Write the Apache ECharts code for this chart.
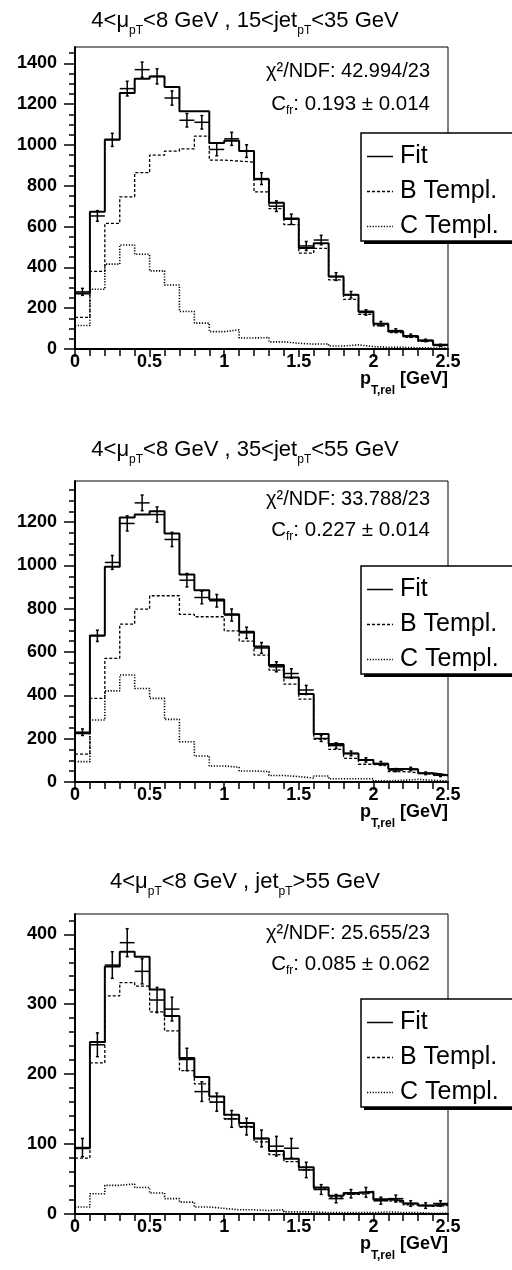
<!DOCTYPE html>
<html>
<head>
<meta charset="utf-8">
<script src="https://cdn.jsdelivr.net/npm/echarts@6/dist/echarts.min.js"></script>
<style>
html, body { margin: 0; padding: 0; background: #fff; }
#main { width: 512px; height: 1270px; }
</style>
</head>
<body>
<div id="main"></div>
<script>
// p_T,rel bins (GeV)
var binEdges = [0, 0.1, 0.2, 0.3, 0.4, 0.5, 0.6, 0.7, 0.8, 0.9, 1.0, 1.1, 1.2, 1.3, 1.4, 1.5, 1.6, 1.7, 1.8, 1.9, 2.0, 2.1, 2.2, 2.3, 2.4, 2.5];
var xTicks = [0, 0.5, 1, 1.5, 2, 2.5];

// 4<mu_pT<8 GeV, 15<jet_pT<35 GeV
var yTicks1 = [0, 200, 400, 600, 800, 1000, 1200, 1400];
var data1 = [280, 652, 1025, 1276, 1369, 1336, 1230, 1121, 1111, 978, 1030, 970, 835, 700, 636, 505, 534, 355, 266, 179, 124, 90, 65, 42, 18];
var err1 = [17, 26, 32, 36, 37, 37, 35, 33, 33, 31, 32, 31, 29, 26, 25, 22, 23, 19, 16, 13, 11, 9, 8, 6, 5];
var fit1 = [272, 673, 1027, 1255, 1325, 1336, 1284, 1165, 1165, 1010, 1020, 970, 832, 717, 640, 495, 518, 355, 266, 184, 124, 86, 62, 42, 21];
var bTpl1 = [155, 380, 616, 746, 864, 950, 970, 981, 1043, 926, 921, 916, 770, 688, 610, 470, 493, 339, 243, 170, 114, 80, 57, 37, 17];
var cTpl1 = [115, 293, 416, 510, 464, 383, 314, 184, 127, 85, 94, 54, 56, 35, 28, 24, 25, 15, 20, 12, 8, 8, 6, 5, 4];

// 4<mu_pT<8 GeV, 35<jet_pT<55 GeV
var yTicks2 = [0, 200, 400, 600, 800, 1000, 1200];
var data2 = [230, 675, 1014, 1194, 1289, 1235, 1120, 932, 852, 837, 771, 689, 619, 532, 501, 425, 201, 168, 132, 102, 86, 55, 60, 40, 31];
var err2 = [15, 26, 32, 35, 36, 35, 33, 31, 29, 29, 28, 26, 25, 23, 22, 21, 14, 13, 11, 10, 9, 7, 8, 6, 6];
var fit2 = [225, 676, 994, 1221, 1235, 1250, 1147, 958, 886, 843, 775, 694, 626, 540, 483, 406, 222, 175, 132, 102, 83, 60, 58, 40, 31];
var bTpl2 = [129, 386, 571, 729, 798, 860, 860, 774, 763, 763, 698, 651, 586, 517, 452, 383, 198, 151, 109, 82, 74, 48, 43, 35, 28];
var cTpl2 = [94, 286, 421, 494, 432, 386, 289, 186, 120, 74, 68, 51, 48, 30, 25, 18, 28, 15, 15, 15, 5, 8, 12, 8, 5];

// 4<mu_pT<8 GeV, jet_pT>55 GeV
var yTicks3 = [0, 100, 200, 300, 400];
var data3 = [95, 242, 356, 388, 347, 306, 293, 221, 175, 160, 136, 125, 108, 97, 94, 63, 35, 22, 29, 31, 19, 22, 15, 12, 15];
var err3 = [13, 17, 19, 20, 18, 18, 17, 16, 14, 13, 12, 12, 12, 14, 14, 11, 7, 6, 6, 7, 5, 5, 4, 4, 4];
var fit3 = [94, 246, 354, 375, 368, 321, 283, 223, 196, 168, 142, 130, 108, 90, 79, 67, 38, 26, 30, 32, 21, 19, 15, 12, 14];
var bTpl3 = [80, 216, 312, 331, 326, 289, 262, 205, 186, 160, 136, 124, 103, 85, 75, 63, 36, 24, 28, 30, 19, 17, 13, 11, 12];
var cTpl3 = [10, 29, 41, 43, 38, 30, 22, 17, 10, 8, 6, 6, 5, 6, 3, 3, 2, 2, 2, 2, 3, 2, 2, 1, 1];

var FONT = '"Liberation Sans", Arial, Helvetica, sans-serif';

var panels = [
  { top: 47, height: 302, ymax: 1480, major: 200, minor: 50, ticks: yTicks1,
    data: data1, err: err1, fit: fit1, b: bTpl1, c: cTpl1,
    title: '{n|4<μ}{s|pT}{n|<8 GeV , 15<jet}{s|pT}{n|<35 GeV}', titleY: 21,
    chi: '42.994/23', cfr: '0.193 ± 0.014', statY: [71, 104], legY: 133 },
  { top: 481, height: 301, ymax: 1390, major: 200, minor: 50, ticks: yTicks2,
    data: data2, err: err2, fit: fit2, b: bTpl2, c: cTpl2,
    title: '{n|4<μ}{s|pT}{n|<8 GeV , 35<jet}{s|pT}{n|<55 GeV}', titleY: 450,
    chi: '33.788/23', cfr: '0.227 ± 0.014', statY: [499, 530], legY: 566 },
  { top: 914, height: 300, ymax: 429, major: 100, minor: 20, ticks: yTicks3,
    data: data3, err: err3, fit: fit3, b: bTpl3, c: cTpl3,
    title: '{n|4<μ}{s|pT}{n|<8 GeV , jet}{s|pT}{n|>55 GeV}', titleY: 882,
    chi: '25.655/23', cfr: '0.085 ± 0.062', statY: [933, 964], legY: 999 }
];

// histogram outline: value of bin i drawn from edge i to edge i+1
function stepData(vals) {
  return binEdges.map(function (x, i) {
    return [x, vals[Math.min(i, vals.length - 1)]];
  });
}

function crossData(vals, errs) {
  return vals.map(function (v, i) {
    return [(binEdges[i] + binEdges[i + 1]) / 2, v, errs[i], binEdges[i], binEdges[i + 1]];
  });
}

function minorList(step, max) {
  var out = [];
  for (var v = 0; v <= max; v += step) out.push(v);
  return out;
}

function renderCross(params, api) {
  var y = api.value(1), e = api.value(2);
  var l = api.coord([api.value(3), y]);
  var r = api.coord([api.value(4), y]);
  var t = api.coord([api.value(0), y + e]);
  var b = api.coord([api.value(0), y - e]);
  var st = { stroke: '#000', lineWidth: 1.5 };
  return {
    type: 'group',
    children: [
      { type: 'line', shape: { x1: l[0], y1: l[1], x2: r[0], y2: r[1] }, style: st },
      { type: 'line', shape: { x1: t[0], y1: t[1], x2: b[0], y2: b[1] }, style: st },
      { type: 'line', shape: { x1: t[0] - 1.5, y1: t[1], x2: t[0] + 1.5, y2: t[1] }, style: st },
      { type: 'line', shape: { x1: b[0] - 1.5, y1: b[1], x2: b[0] + 1.5, y2: b[1] }, style: st }
    ]
  };
}

var grids = [], xAxes = [], yAxes = [], series = [], graphics = [];

panels.forEach(function (p, k) {
  grids.push({
    left: 75, top: p.top, width: 373, height: p.height,
    show: true, borderColor: '#000', borderWidth: 1,
    outerBoundsMode: 'none'
  });

  xAxes.push({
    gridIndex: k, type: 'value', min: 0, max: 2.5, interval: 0.5,
    axisLine: { lineStyle: { color: '#000', width: 2 } },
    axisTick: { length: 8, lineStyle: { color: '#000', width: 1.5 } },
    minorTick: { show: true, splitNumber: 5, length: 7, lineStyle: { color: '#000', width: 1.5 } },
    splitLine: { show: false },
    axisLabel: { customValues: xTicks, color: '#000', fontSize: 18, fontWeight: 'bold', fontFamily: FONT, margin: 4 },
    name: '{p|p}{s|T,rel}{p| [GeV]}',
    nameLocation: 'end', nameGap: 0, nameMoveOverlap: false,
    nameTextStyle: {
      align: 'right', verticalAlign: 'top', padding: [12, 0, 0, 0],
      rich: {
        p: { fontSize: 18, fontWeight: 'bold', fontFamily: FONT, color: '#000' },
        s: { fontSize: 12, fontWeight: 'bold', fontFamily: FONT, color: '#000', padding: [24, 0, 0, 0] }
      }
    }
  });

  yAxes.push({
    gridIndex: k, type: 'value', position: 'left', min: 0, max: p.ymax, interval: p.major,
    axisLine: { show: true, lineStyle: { color: '#000', width: 2 } },
    axisTick: { customValues: p.ticks, length: 11, lineStyle: { color: '#000', width: 1.5 } },
    axisLabel: {
      customValues: p.ticks, color: '#000', fontSize: 18, fontWeight: 'bold', fontFamily: FONT, margin: 18,
      formatter: function (v) { return String(v); }
    },
    splitLine: { show: false }
  });
  yAxes.push({
    gridIndex: k, type: 'value', position: 'left', min: 0, max: p.ymax, interval: p.major,
    axisLine: { show: false },
    axisTick: { customValues: minorList(p.minor, p.ymax), length: 6, lineStyle: { color: '#000', width: 1.5 } },
    axisLabel: { show: false },
    splitLine: { show: false }
  });

  series.push({
    name: 'C Templ.', type: 'line', xAxisIndex: k, yAxisIndex: 2 * k, step: 'end',
    symbol: 'none', data: stepData(p.c), animation: false,
    lineStyle: { color: '#000', width: 1.6, type: [1.2, 1.6] }
  });
  series.push({
    name: 'B Templ.', type: 'line', xAxisIndex: k, yAxisIndex: 2 * k, step: 'end',
    symbol: 'none', data: stepData(p.b), animation: false,
    lineStyle: { color: '#000', width: 1.3, type: [3, 2] }
  });
  series.push({
    name: 'Fit', type: 'line', xAxisIndex: k, yAxisIndex: 2 * k, step: 'end',
    symbol: 'none', data: stepData(p.fit), animation: false,
    lineStyle: { color: '#000', width: 2 }
  });
  series.push({
    name: 'Data', type: 'custom', xAxisIndex: k, yAxisIndex: 2 * k,
    renderItem: renderCross, encode: { x: 0, y: 1 },
    data: crossData(p.data, p.err), animation: false, z: 5
  });

  // title above the frame
  graphics.push({
    type: 'text', x: 245, y: p.titleY, z: 100,
    style: {
      text: p.title, align: 'center', verticalAlign: 'middle', fill: '#000',
      rich: {
        n: { fontSize: 22, fontFamily: FONT, fill: '#000' },
        s: { fontSize: 12, fontFamily: FONT, fill: '#000', padding: [20, 0, 0, 0] }
      }
    }
  });
  // fit statistics
  graphics.push({
    type: 'text', x: 430, y: p.statY[0], z: 100,
    style: {
      text: '{n|χ²/NDF: ' + p.chi + '}', align: 'right', verticalAlign: 'middle',
      rich: { n: { fontSize: 20, fontFamily: FONT, fill: '#000' } }
    }
  });
  graphics.push({
    type: 'text', x: 430, y: p.statY[1], z: 100,
    style: {
      text: '{n|C}{s|fr}{n|: ' + p.cfr + '}', align: 'right', verticalAlign: 'middle',
      rich: {
        n: { fontSize: 20.5, fontFamily: FONT, fill: '#000' },
        s: { fontSize: 12, fontFamily: FONT, fill: '#000', padding: [13, 0, 0, 0] }
      }
    }
  });

  // legend box (runs past the right edge, as in the original)
  var ly = p.legY;
  graphics.push({ type: 'rect', z: 100, shape: { x: 364, y: ly + 3, width: 200, height: 108 }, style: { fill: '#000' } });
  graphics.push({ type: 'rect', z: 101, shape: { x: 361, y: ly, width: 200, height: 108 }, style: { fill: '#fff', stroke: '#000', lineWidth: 1.5 } });
  var rows = [
    { label: 'Fit', dash: null, w: 1.5 },
    { label: 'B Templ.', dash: [3, 2], w: 1.3 },
    { label: 'C Templ.', dash: [1.2, 1.6], w: 1.6 }
  ];
  rows.forEach(function (row, j) {
    var ry = ly + 23.5 + 35 * j;
    graphics.push({
      type: 'line', z: 102, shape: { x1: 367, y1: ry, x2: 393, y2: ry },
      style: { stroke: '#000', lineWidth: row.w, lineDash: row.dash }
    });
    graphics.push({
      type: 'text', z: 102, x: 400, y: ry,
      style: { text: row.label, fontSize: 25, fontFamily: FONT, fill: '#000', verticalAlign: 'middle' }
    });
  });
});

var option = {
  backgroundColor: '#fff',
  animation: false,
  grid: grids,
  xAxis: xAxes,
  yAxis: yAxes,
  series: series,
  graphic: graphics
};

var myChart = echarts.init(document.getElementById('main'));
myChart.setOption(option);
</script>
</body>
</html>
